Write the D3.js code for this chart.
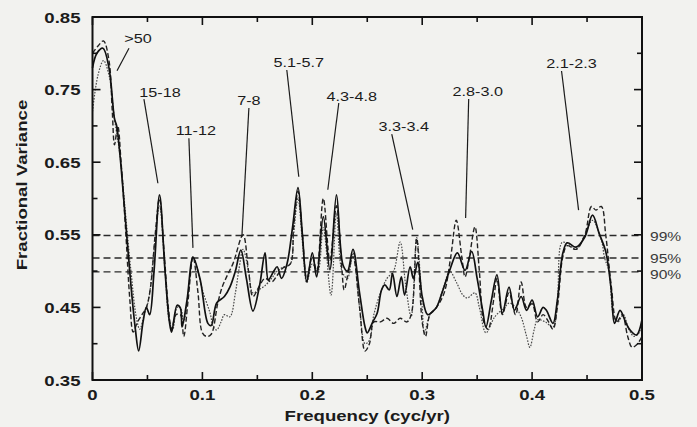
<!DOCTYPE html>
<html>
<head>
<meta charset="utf-8">
<script src="https://cdn.jsdelivr.net/npm/d3@7"></script>
<style>
  body { margin: 0; background: #f2f2ef; }
  .chart text { font-family: "Liberation Sans", Arial, sans-serif; fill: #1b1b1b; }
</style>
</head>
<body>
<div class="chart"></div>
<script>
// values: [frequency (cyc/yr), fractional variance]
var solid = [[0,0.78],[0.004,0.80],[0.0095,0.807],[0.015,0.78],[0.02,0.71],[0.022,0.70],[0.025,0.66],[0.03,0.57],[0.035,0.48],[0.039,0.42],
  [0.042,0.39],[0.046,0.43],[0.049,0.45],[0.052,0.44],[0.056,0.50],[0.061,0.605],[0.066,0.50],[0.07,0.43],[0.072,0.416],[0.077,0.453],
  [0.08,0.449],[0.0815,0.423],[0.086,0.46],[0.0915,0.519],[0.098,0.488],[0.105,0.428],[0.108,0.425],[0.113,0.456],[0.12,0.465],[0.125,0.478],
  [0.13,0.50],[0.135,0.529],[0.14,0.49],[0.146,0.445],[0.152,0.48],[0.157,0.525],[0.16,0.488],[0.165,0.50],[0.168,0.506],[0.172,0.49],
  [0.177,0.51],[0.182,0.56],[0.187,0.615],[0.191,0.55],[0.195,0.485],[0.2,0.525],[0.204,0.492],[0.21,0.575],[0.216,0.502],[0.222,0.605],
  [0.228,0.508],[0.232,0.50],[0.237,0.53],[0.243,0.47],[0.248,0.423],[0.25,0.415],[0.255,0.43],[0.259,0.442],[0.263,0.474],[0.266,0.481],
  [0.27,0.474],[0.273,0.497],[0.277,0.465],[0.281,0.492],[0.284,0.467],[0.289,0.506],[0.292,0.49],[0.296,0.512],[0.3,0.465],[0.305,0.44],
  [0.31,0.445],[0.313,0.45],[0.318,0.47],[0.325,0.501],[0.332,0.525],[0.339,0.501],[0.345,0.527],[0.35,0.49],[0.355,0.446],[0.358,0.423],
  [0.363,0.46],[0.368,0.495],[0.373,0.442],[0.379,0.478],[0.384,0.446],[0.39,0.465],[0.395,0.446],[0.4,0.46],[0.405,0.437],[0.41,0.45],
  [0.413,0.446],[0.419,0.428],[0.423,0.46],[0.428,0.525],[0.432,0.539],[0.44,0.533],[0.448,0.547],[0.455,0.577],[0.461,0.552],[0.467,0.527],
  [0.472,0.474],[0.475,0.428],[0.48,0.446],[0.485,0.43],[0.489,0.419],[0.495,0.412],[0.5,0.433]]

var dashed = [[0,0.80],[0.005,0.81],[0.01,0.817],[0.015,0.79],[0.018,0.72],[0.02,0.674],[0.023,0.70],[0.026,0.65],[0.03,0.56],[0.034,0.46],
  [0.037,0.416],[0.041,0.43],[0.045,0.44],[0.049,0.45],[0.053,0.48],[0.057,0.55],[0.061,0.60],[0.065,0.53],[0.069,0.45],[0.072,0.42],
  [0.076,0.44],[0.08,0.44],[0.083,0.41],[0.087,0.46],[0.0915,0.52],[0.096,0.47],[0.1,0.415],[0.104,0.41],[0.108,0.413],[0.114,0.456],
  [0.118,0.478],[0.122,0.492],[0.128,0.511],[0.137,0.55],[0.142,0.50],[0.146,0.465],[0.152,0.48],[0.157,0.49],[0.163,0.485],[0.168,0.494],
  [0.173,0.504],[0.18,0.51],[0.183,0.56],[0.187,0.61],[0.191,0.55],[0.195,0.49],[0.2,0.52],[0.204,0.50],[0.21,0.60],[0.216,0.515],
  [0.222,0.59],[0.227,0.50],[0.229,0.474],[0.233,0.50],[0.237,0.52],[0.243,0.45],[0.248,0.39],[0.252,0.40],[0.256,0.43],[0.262,0.43],
  [0.268,0.435],[0.274,0.428],[0.28,0.435],[0.286,0.43],[0.29,0.44],[0.295,0.545],[0.3,0.43],[0.303,0.41],[0.307,0.44],[0.313,0.45],
  [0.32,0.47],[0.326,0.52],[0.331,0.57],[0.336,0.52],[0.339,0.492],[0.343,0.52],[0.348,0.561],[0.352,0.50],[0.356,0.43],[0.36,0.42],
  [0.365,0.46],[0.368,0.49],[0.373,0.44],[0.379,0.47],[0.385,0.44],[0.39,0.485],[0.395,0.45],[0.4,0.455],[0.405,0.43],[0.41,0.44],
  [0.415,0.43],[0.419,0.42],[0.423,0.45],[0.428,0.52],[0.432,0.535],[0.44,0.53],[0.448,0.55],[0.454,0.589],[0.458,0.584],[0.463,0.589],
  [0.467,0.55],[0.472,0.48],[0.477,0.43],[0.482,0.44],[0.487,0.41],[0.491,0.395],[0.496,0.40],[0.5,0.41]]

var dotted = [[0,0.72],[0.005,0.77],[0.01,0.79],[0.015,0.77],[0.02,0.71],[0.025,0.66],[0.03,0.58],[0.035,0.50],[0.04,0.435],[0.043,0.42],
  [0.047,0.44],[0.051,0.46],[0.056,0.53],[0.061,0.59],[0.066,0.50],[0.07,0.43],[0.073,0.42],[0.077,0.45],[0.08,0.45],[0.083,0.43],
  [0.087,0.47],[0.0915,0.52],[0.096,0.50],[0.1,0.474],[0.107,0.442],[0.11,0.423],[0.113,0.419],[0.117,0.43],[0.12,0.44],[0.125,0.437],
  [0.13,0.47],[0.133,0.50],[0.137,0.53],[0.142,0.50],[0.146,0.47],[0.152,0.475],[0.157,0.48],[0.163,0.49],[0.168,0.50],[0.173,0.505],
  [0.18,0.51],[0.183,0.55],[0.187,0.60],[0.191,0.54],[0.195,0.484],[0.2,0.51],[0.205,0.50],[0.21,0.56],[0.217,0.467],[0.222,0.58],
  [0.227,0.50],[0.232,0.49],[0.237,0.525],[0.243,0.45],[0.248,0.40],[0.252,0.405],[0.256,0.44],[0.262,0.47],[0.268,0.49],[0.274,0.50],
  [0.28,0.54],[0.285,0.48],[0.29,0.437],[0.295,0.546],[0.3,0.45],[0.302,0.415],[0.307,0.44],[0.313,0.45],[0.32,0.48],[0.325,0.50],
  [0.331,0.485],[0.337,0.467],[0.341,0.463],[0.348,0.47],[0.352,0.45],[0.358,0.415],[0.366,0.437],[0.375,0.45],[0.379,0.456],[0.385,0.45],
  [0.39,0.437],[0.395,0.41],[0.398,0.395],[0.402,0.42],[0.405,0.433],[0.412,0.43],[0.419,0.423],[0.423,0.46],[0.427,0.539],[0.431,0.539],
  [0.44,0.53],[0.448,0.55],[0.455,0.57],[0.463,0.543],[0.466,0.518],[0.47,0.50],[0.474,0.44],[0.478,0.43],[0.483,0.44],[0.488,0.42],
  [0.493,0.41],[0.5,0.42]]

var xTicks = [0, 0.1, 0.2, 0.3, 0.4, 0.5]
var yTicks = [0.35, 0.45, 0.55, 0.65, 0.75, 0.85]

// significance levels
var levelNames = ["99%", "95%", "90%"]
var levelValues = [0.549, 0.518, 0.499]

// labelled peaks (periods in years) and the point each leader line touches
var peakNames = [">50", "15-18", "11-12", "7-8", "5.1-5.7", "4.3-4.8", "3.3-3.4", "2.8-3.0", "2.1-2.3"]
var peakPoints = [[0.0223,0.776],[0.0595,0.621],[0.0914,0.532],[0.1359,0.547],[0.1877,0.63],[0.2141,0.612],[0.2914,0.557],[0.3395,0.573],[0.4423,0.584]]

// where each label sits and where its leader starts (same units as the axes)
var labelAt = [[0.0414,0.814],[0.0614,0.740],[0.0941,0.6875],[0.1423,0.7288],[0.1877,0.7811],[0.2359,0.7343],[0.2832,0.693],[0.3505,0.7412],[0.4359,0.7798]]
var leaderTop = [[0.0332,0.807],[0.0468,0.737],[0.0877,0.683],[0.1423,0.7247],[0.1768,0.777],[0.2241,0.7315],[0.2723,0.6888],[0.3423,0.737],[0.4268,0.7756]]

var W = 697, H = 427
var margin = {top: 17, right: 55, bottom: 47, left: 92.5}
var width = W - margin.left - margin.right
var height = H - margin.top - margin.bottom
var stretch = 1.2   // the scanned lettering is wider than its height suggests

var svg = d3.select(".chart")
  .append("svg")
    .attr("width", W)
    .attr("height", H)

svg.append("rect").attr("width", W).attr("height", H).attr("fill", "#f2f2ef")

var g = svg.append("g")
  .attr("transform", "translate(" + margin.left + "," + margin.top + ")")

var x = d3.scaleLinear().domain([0, 0.5]).range([0, width])
var y = d3.scaleLinear().domain([0.35, 0.85]).range([height, 0])

function label(sel, px, py, str, anchor, size, weight, fill) {
  return sel.append("text")
    .attr("transform", "translate(" + px + "," + py + ") scale(" + stretch + ",1)")
    .attr("text-anchor", anchor)
    .style("font-size", size + "px")
    .style("font-weight", weight)
    .style("fill", fill || "#1b1b1b")
    .text(str)
}

// significance lines
levelValues.forEach(function(v, i) {
  g.append("line")
    .attr("x1", 0).attr("x2", width)
    .attr("y1", y(v)).attr("y2", y(v))
    .attr("stroke", "#2a2a2a")
    .attr("stroke-width", 1.4)
    .attr("stroke-dasharray", "7,4")
  label(g, width + 8, y(v) + (i == 2 ? 7 : 5), levelNames[i], "start", 13, "normal", "#3a3a3a")
})

// the three spectra
var line = d3.line()
  .x(function(d) { return x(d[0]) })
  .y(function(d) { return y(d[1]) })
  .curve(d3.curveCatmullRom.alpha(0.5))

g.append("path").datum(dotted)
  .attr("d", line).attr("fill", "none")
  .attr("stroke", "#4a4a4a").attr("stroke-width", 1.2)
  .attr("stroke-dasharray", "1.6,1.4")

g.append("path").datum(dashed)
  .attr("d", line).attr("fill", "none")
  .attr("stroke", "#222").attr("stroke-width", 1.4)
  .attr("stroke-dasharray", "5,2.5")

g.append("path").datum(solid)
  .attr("d", line).attr("fill", "none")
  .attr("stroke", "#111").attr("stroke-width", 1.7)

// peak annotations
peakNames.forEach(function(name, i) {
  g.append("line")
    .attr("x1", x(leaderTop[i][0])).attr("y1", y(leaderTop[i][1]))
    .attr("x2", x(peakPoints[i][0])).attr("y2", y(peakPoints[i][1]))
    .attr("stroke", "#1b1b1b").attr("stroke-width", 1.2)
  label(g, x(labelAt[i][0]), y(labelAt[i][1]), name, "middle", 13.5, "normal")
})

// frame and ticks (inward on all four sides)
g.append("rect")
  .attr("width", width).attr("height", height)
  .attr("fill", "none").attr("stroke", "#111").attr("stroke-width", 2)

var xAll = d3.range(0, 0.5001, 0.05)
var yAll = d3.range(0.35, 0.8501, 0.05)
function isMajorX(v) { return Math.abs(v * 10 - Math.round(v * 10)) < 1e-6 }
function isMajorY(v) { return yTicks.some(function(t) { return Math.abs(t - v) < 1e-6 }) }

xAll.forEach(function(v) {
  var len = isMajorX(v) ? 8 : 5
  g.append("line").attr("x1", x(v)).attr("x2", x(v)).attr("y1", height).attr("y2", height - len)
    .attr("stroke", "#111").attr("stroke-width", 1.6)
  g.append("line").attr("x1", x(v)).attr("x2", x(v)).attr("y1", 0).attr("y2", len)
    .attr("stroke", "#111").attr("stroke-width", 1.6)
})
yAll.forEach(function(v) {
  var len = isMajorY(v) ? 8 : 5
  g.append("line").attr("x1", 0).attr("x2", len).attr("y1", y(v)).attr("y2", y(v))
    .attr("stroke", "#111").attr("stroke-width", 1.6)
  g.append("line").attr("x1", width).attr("x2", width - len).attr("y1", y(v)).attr("y2", y(v))
    .attr("stroke", "#111").attr("stroke-width", 1.6)
})

xTicks.forEach(function(v) {
  label(g, x(v), height + 20, String(v), "middle", 15.5, "bold")
})
yTicks.forEach(function(v) {
  label(g, -12, y(v) + 5.5, v.toFixed(2), "end", 15.5, "bold")
})

// axis titles
label(svg, margin.left + width / 2, 421, "Frequency (cyc/yr)", "middle", 15.5, "bold")
svg.append("text")
  .attr("transform", "translate(27,185) rotate(-90) scale(" + stretch + ",1)")
  .attr("text-anchor", "middle")
  .style("font-size", "15.5px")
  .style("font-weight", "bold")
  .text("Fractional Variance")
</script>
</body>
</html>
